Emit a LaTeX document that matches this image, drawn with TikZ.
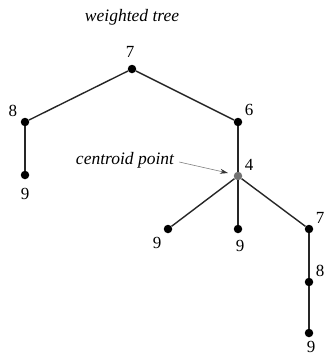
\documentclass[tikz,border=0pt]{standalone}
\usepackage{fontspec}
\setmainfont{Liberation Serif}
\usetikzlibrary{arrows.meta}
\begin{document}
\begin{tikzpicture}[x=1pt,y=-1pt,
  dot/.style={circle,fill=black,inner sep=0pt,minimum size=8.5pt},
  cdot/.style={circle,fill=black!55,inner sep=0pt,minimum size=8.5pt},
  lbl/.style={font=\fontsize{17}{17}\selectfont,inner sep=0pt},
  edge/.style={line width=1.4pt,draw=black!85}]
\useasboundingbox (0,0) rectangle (326,357);
\node[font=\fontsize{17.5}{17}\selectfont\itshape,inner sep=0pt] (title) at (132,17) {weighted tree};
\node[dot] (r) at (132,69) {};
\node[dot] (a) at (25,122) {};
\node[dot] (a9) at (25,175) {};
\node[dot] (b) at (238,122) {};
\node[cdot] (c) at (238,176) {};
\node[dot] (c1) at (168,229) {};
\node[dot] (c2) at (238,229) {};
\node[dot] (c3) at (309,229) {};
\node[dot] (c4) at (309,282) {};
\node[dot] (c5) at (309,333) {};
\draw[edge] (r) -- (a);
\draw[edge] (r) -- (b);
\draw[edge] (a) -- (a9);
\draw[edge] (b) -- (c);
\draw[edge] (c) -- (c1);
\draw[edge] (c) -- (c2);
\draw[edge] (c) -- (c3);
\draw[edge] (c3) -- (c4);
\draw[edge] (c4) -- (c5);
\node[lbl] (lr) at (130,52) {7};
\node[lbl] (la) at (13,111) {8};
\node[lbl] (la9) at (25,194) {9};
\node[lbl] (lb) at (249,110) {6};
\node[lbl] (lc) at (249,165) {4};
\node[lbl] (lc1) at (157,243) {9};
\node[lbl] (lc2) at (240,246) {9};
\node[lbl] (lc3) at (320,218) {7};
\node[lbl] (lc4) at (320,271) {8};
\node[lbl] (lc5) at (311,347) {9};
\node[font=\fontsize{17.5}{17}\selectfont\itshape,inner sep=0pt] (cp) at (125,160) {centroid point};
\coordinate (ae) at (228,173);
\draw[gray,line width=0.6pt,-{Stealth[length=8pt,width=5pt,black!80]}] (cp.east) ++(5,2) -- (ae);
\end{tikzpicture}
\end{document}
